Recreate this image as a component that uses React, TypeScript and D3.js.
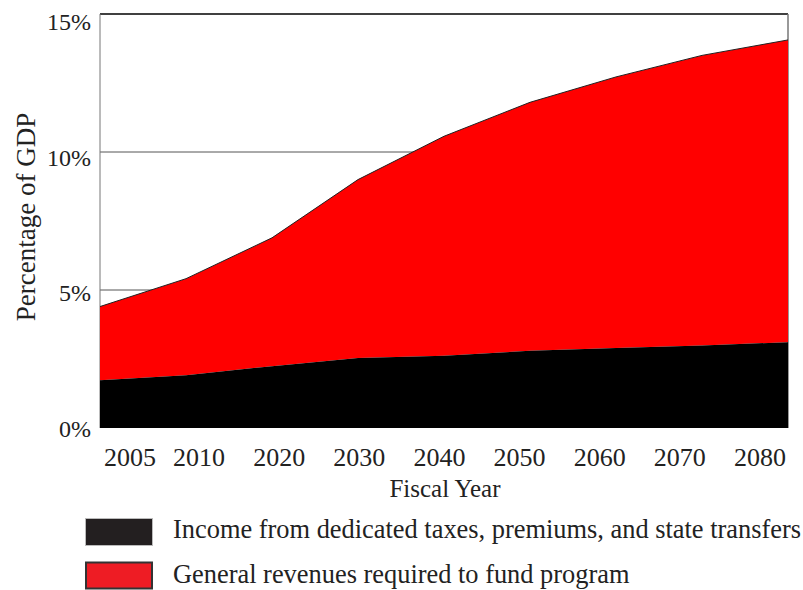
import React from "react";
import * as d3 from "d3";

const years = ["2005", "2010", "2020", "2030", "2040", "2050", "2060", "2070", "2080"];
const dedicatedIncome = [1.73, 1.91, 2.24, 2.54, 2.62, 2.8, 2.9, 2.99, 3.11];
const totalCost = [4.4, 5.41, 6.89, 9.0, 10.57, 11.8, 12.72, 13.5, 14.06];
const yTicks = [0, 5, 10, 15];
const legendLabels = [
  "Income from dedicated taxes, premiums, and state transfers",
  "General revenues required to fund program",
];

const W = 803;
const H = 590;
const FONT = "'Liberation Serif', 'Times New Roman', serif";

export default function App() {
  const left = 100;
  const right = 788;
  const top = 14;
  const bottom = 428;

  const x = d3.scalePoint<string>().domain(years).range([left, right]);
  const y = d3.scaleLinear().domain([0, 15]).range([bottom, top]);
  // tick label positions (labels are slightly offset from data points in original)
  const xLabel = d3.scaleLinear().domain([0, 1, 8]).range([130, 199, 760]);
  const yLabel = d3.scaleLinear().domain([0, 15]).range([437, 30]);

  const idx = years.map((_, i) => i);
  const blackArea = d3
    .area<number>()
    .x((i) => x(years[i])!)
    .y0(() => y(0))
    .y1((i) => y(dedicatedIncome[i]))(idx)!;
  const redArea = d3
    .area<number>()
    .x((i) => x(years[i])!)
    .y0((i) => y(dedicatedIncome[i]))
    .y1((i) => y(totalCost[i]))(idx)!;
  const topLine = d3
    .line<number>()
    .x((i) => x(years[i])!)
    .y((i) => y(totalCost[i]))(idx)!;

  return (
    <svg width={W} height={H} style={{ display: "block", position: "absolute", left: 0, top: 0 }}>
      <rect width={W} height={H} fill="#fff" />
      {/* gridlines */}
      {[5, 10].map((t) => (
        <line key={t} x1={left} x2={right} y1={y(t)} y2={y(t)} stroke="#555" strokeWidth={1} />
      ))}
      {/* frame */}
      <line x1={left} x2={right} y1={y(15)} y2={y(15)} stroke="#000" strokeWidth={1.3} />
      <line x1={right} x2={right} y1={y(15)} y2={y(0)} stroke="#777" strokeWidth={1.5} />
      <line x1={left} x2={left} y1={y(15)} y2={y(0)} stroke="#777" strokeWidth={1} />
      {/* areas */}
      <path d={redArea} fill="#ff0000" />
      <path d={blackArea} fill="#000" />
      <path d={topLine} fill="none" stroke="#222" strokeWidth={1} />
      {/* y tick labels */}
      {yTicks.map((t) => (
        <text key={t} x={91} y={yLabel(t)} textAnchor="end" fontFamily={FONT} fontSize={24} fill="#222">
          {t}%
        </text>
      ))}
      {/* x tick labels */}
      {years.map((yr, i) => (
        <text key={yr} x={xLabel(i)} y={466} textAnchor="middle" fontFamily={FONT} fontSize={26} fill="#222">
          {yr}
        </text>
      ))}
      <text
        transform={`translate(35, ${217}) rotate(-90)`}
        textAnchor="middle"
        fontFamily={FONT}
        fontSize={27}
        fill="#222"
      >
        Percentage of GDP
      </text>
      <text x={445} y={497} textAnchor="middle" fontFamily={FONT} fontSize={25} fill="#222">
        Fiscal Year
      </text>
      {/* legend */}
      <rect x={85.5} y={518.5} width={67} height={27} fill="#231f20" stroke="#bbb" strokeWidth={1} />
      <rect x={86} y={562.5} width={66} height={26} fill="#ee1c24" stroke="#333" strokeWidth={2} />
      <text x={173} y={538} fontFamily={FONT} fontSize={26.4} fill="#222">
        {legendLabels[0]}
      </text>
      <text x={173} y={583} fontFamily={FONT} fontSize={26.4} fill="#222">
        {legendLabels[1]}
      </text>
    </svg>
  );
}
